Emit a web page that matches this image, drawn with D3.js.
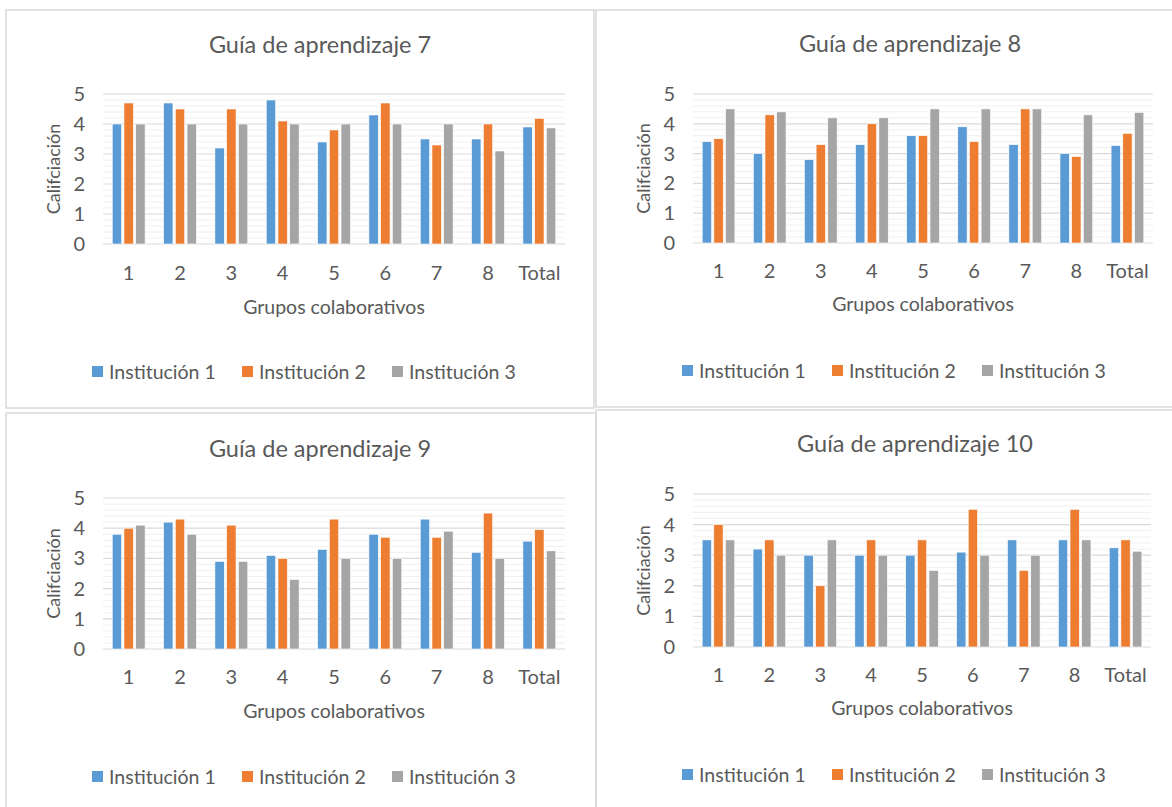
<!DOCTYPE html>
<html>
<head>
<meta charset="utf-8">
<script src="https://cdn.jsdelivr.net/npm/d3@7"></script>
<style>
  body { margin: 0; background: #fff; }
  text { font-family: Lato, "Noto Sans", sans-serif; fill: #595959; }
</style>
</head>
<body>
<div id="root"></div>
<script>
var W = 1172, H = 807;

// datos
var categorias = ['1', '2', '3', '4', '5', '6', '7', '8', 'Total'];
var instituciones = ['Institución 1', 'Institución 2', 'Institución 3'];
var colores = ['#5B9BD5', '#ED7D31', '#A5A5A5'];

var guia7 = [
  [4.0, 4.7, 3.2, 4.8, 3.4, 4.3, 3.5, 3.5, 3.9],
  [4.7, 4.5, 4.5, 4.1, 3.8, 4.7, 3.3, 4.0, 4.19],
  [4.0, 4.0, 4.0, 4.0, 4.0, 4.0, 4.0, 3.1, 3.87]
];
var guia8 = [
  [3.4, 3.0, 2.8, 3.3, 3.6, 3.9, 3.3, 3.0, 3.27],
  [3.5, 4.3, 3.3, 4.0, 3.6, 3.4, 4.5, 2.9, 3.68],
  [4.5, 4.4, 4.2, 4.2, 4.5, 4.5, 4.5, 4.3, 4.38]
];
var guia9 = [
  [3.8, 4.2, 2.9, 3.1, 3.3, 3.8, 4.3, 3.2, 3.57],
  [4.0, 4.3, 4.1, 3.0, 4.3, 3.7, 3.7, 4.5, 3.95],
  [4.1, 3.8, 2.9, 2.3, 3.0, 3.0, 3.9, 3.0, 3.25]
];
var guia10 = [
  [3.5, 3.2, 3.0, 3.0, 3.0, 3.1, 3.5, 3.5, 3.24],
  [4.0, 3.5, 2.0, 3.5, 3.5, 4.5, 2.5, 4.5, 3.5],
  [3.5, 3.0, 3.5, 3.0, 2.5, 3.0, 3.0, 3.5, 3.13]
];
var titulos = ['Guía de aprendizaje 7', 'Guía de aprendizaje 8', 'Guía de aprendizaje 9', 'Guía de aprendizaje 10'];
var yTicks = [0, 1, 2, 3, 4, 5];

var svg = d3.select('#root').append('svg').attr('width', W).attr('height', H);

// marcos y posiciones de cada gráfico
var paneles = [
  { datos: guia7, bx: 6, by: 10, bw: 588, bh: 398, left: 103, right: 565, top: 94, bottom: 244, tx: 320, ty: 45, cy: 273, xy: 307, ly: 372 },
  { datos: guia8, bx: 596, by: 10, bw: 580, bh: 397, left: 693, right: 1153, top: 94, bottom: 243, tx: 910, ty: 44, cy: 271, xy: 304, ly: 371 },
  { datos: guia9, bx: 6, by: 413, bw: 590, bh: 400, left: 103, right: 565, top: 498, bottom: 649, tx: 320, ty: 449, cy: 677, xy: 711, ly: 777 },
  { datos: guia10, bx: 596, by: 410, bw: 580, bh: 400, left: 693, right: 1151, top: 494, bottom: 647, tx: 915, ty: 444, cy: 675, xy: 708, ly: 775 }
];

paneles.forEach(function (p, k) {
  var g = svg.append('g');

  g.append('rect')
    .attr('x', p.bx).attr('y', p.by).attr('width', p.bw).attr('height', p.bh)
    .attr('fill', 'none').attr('stroke', '#d9d9d9').attr('stroke-width', 1.5);

  var x0 = d3.scaleBand().domain(categorias).range([p.left, p.right]).paddingInner(0.36).paddingOuter(0.18);
  var x1 = d3.scaleBand().domain(d3.range(instituciones.length)).range([0, x0.bandwidth()]).paddingInner(0.2);
  var y = d3.scaleLinear().domain([0, 5]).range([p.bottom, p.top]);

  // líneas menores cada 0.2
  g.append('g').selectAll('line')
    .data(d3.range(0, 5.01, 0.2).filter(function (v) { return Math.abs(v - Math.round(v)) > 0.01; }))
    .enter().append('line')
    .attr('x1', p.left).attr('x2', p.right)
    .attr('y1', function (d) { return y(d); }).attr('y2', function (d) { return y(d); })
    .attr('stroke', '#f0f0f0').attr('stroke-width', 1);

  g.append('g').selectAll('line')
    .data(yTicks)
    .enter().append('line')
    .attr('x1', p.left).attr('x2', p.right)
    .attr('y1', function (d) { return y(d); }).attr('y2', function (d) { return y(d); })
    .attr('stroke', '#d9d9d9').attr('stroke-width', 1.2);

  var grupos = g.append('g').selectAll('g')
    .data(categorias)
    .enter().append('g')
    .attr('transform', function (d) { return 'translate(' + x0(d) + ',0)'; });

  grupos.selectAll('rect')
    .data(function (d, i) { return p.datos.map(function (serie, s) { return { s: s, v: serie[i] }; }); })
    .enter().append('rect')
    .attr('x', function (d) { return x1(d.s); })
    .attr('y', function (d) { return y(d.v); })
    .attr('width', x1.bandwidth())
    .attr('height', function (d) { return y(0) - y(d.v); })
    .attr('fill', function (d) { return colores[d.s]; })
    .attr('stroke', '#fff').attr('stroke-width', 0.6);

  g.append('g').selectAll('text')
    .data(yTicks)
    .enter().append('text')
    .attr('x', p.left - 18)
    .attr('y', function (d) { return y(d); })
    .attr('dy', '0.35em')
    .attr('text-anchor', 'end')
    .style('font-size', '20px')
    .text(function (d) { return d; });

  g.append('g').selectAll('text')
    .data(categorias)
    .enter().append('text')
    .attr('x', function (d) { return x0(d) + x0.bandwidth() / 2; })
    .attr('y', p.cy)
    .attr('dy', '0.35em')
    .attr('text-anchor', 'middle')
    .style('font-size', '20px')
    .text(function (d) { return d; });

  g.append('text')
    .attr('x', p.tx).attr('y', p.ty).attr('dy', '0.35em')
    .attr('text-anchor', 'middle')
    .style('font-size', '23.5px')
    .text(titulos[k]);

  g.append('text')
    .attr('x', (p.left + p.right) / 2).attr('y', p.xy).attr('dy', '0.35em')
    .attr('text-anchor', 'middle')
    .style('font-size', '19.5px')
    .text('Grupos colaborativos');

  g.append('text')
    .attr('transform', 'translate(' + (p.left - 49) + ',' + (p.top + p.bottom) / 2 + ') rotate(-90)')
    .attr('dy', '0.35em')
    .attr('text-anchor', 'middle')
    .style('font-size', '18px')
    .text('Califciación');

  var ley = g.append('g').selectAll('g')
    .data(instituciones)
    .enter().append('g')
    .attr('transform', function (d, i) { return 'translate(' + (p.left - 11 + i * 150) + ',' + p.ly + ')'; });
  ley.append('rect')
    .attr('x', 0).attr('y', -6).attr('width', 11).attr('height', 11)
    .attr('fill', function (d, i) { return colores[i]; });
  ley.append('text')
    .attr('x', 17).attr('dy', '0.35em')
    .style('font-size', '19.5px')
    .text(function (d) { return d; });
});
</script>
</body>
</html>
